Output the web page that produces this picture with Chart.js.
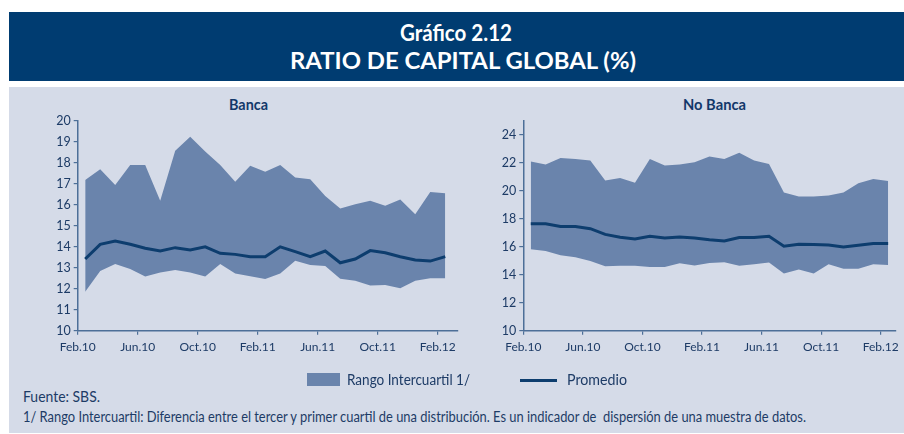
<!DOCTYPE html>
<html>
<head>
<meta charset="utf-8">
<script src="https://cdn.jsdelivr.net/npm/chart.js@4.4.1/dist/chart.umd.min.js"></script>
<style>
  html,body{margin:0;padding:0;background:#fff;}
  body{width:904px;height:434px;position:relative;overflow:hidden;font-family:Lato,'Open Sans',sans-serif;}
  #band{position:absolute;left:9px;top:12px;width:895px;height:69px;background:#003c71;}
  #panel{position:absolute;left:9px;top:87px;width:895px;height:346px;background:#d5dbe8;}
  canvas{position:absolute;}
  .t{position:absolute;white-space:nowrap;transform-origin:0 50%;}
  .title{color:#fff;font-weight:bold;font-size:22px;line-height:26px;}
  .ctitle{font-weight:bold;font-size:14.5px;color:#12386a;line-height:18px;}
  .txt{color:#1d3b66;font-size:14.5px;line-height:18px;}
  .box{position:absolute;left:307px;top:373px;width:33px;height:13px;background:#6a84ac;}
  .ln{position:absolute;left:520px;top:379px;width:37px;height:3px;background:#0d3d6e;}
</style>
</head>
<body>
<div id="band"></div>
<div id="panel"></div>
<div class="t title" data-x="400" data-w="112" style="top:20px;">Gráfico 2.12</div>
<div class="t title" data-x="290" data-w="346" style="top:48px;">RATIO DE CAPITAL GLOBAL (%)</div>
<div class="t ctitle" data-x="229" data-w="39" style="top:96px;">Banca</div>
<div class="t ctitle" data-x="683" data-w="63" style="top:96px;">No Banca</div>
<canvas id="c1" width="470" height="290" style="left:0;top:87px;width:470px;height:290px;"></canvas>
<canvas id="c2" width="434" height="290" style="left:470px;top:87px;width:434px;height:290px;"></canvas>
<div class="box"></div>
<div class="t txt" data-x="347" data-w="123" style="top:371px;">Rango Intercuartil 1/</div>
<div class="ln"></div>
<div class="t txt" data-x="567" data-w="60" style="top:371px;">Promedio</div>
<div class="t txt" data-x="23" data-w="77" style="top:388px;">Fuente: SBS.</div>
<div class="t txt" data-x="23" data-w="783" style="top:408px;">1/ Rango Intercuartil: Diferencia entre el tercer y primer cuartil de una distribución. Es un indicador de&nbsp; dispersión de una muestra de datos.</div>
<script>
// Months Feb.10 .. Feb.12 (25 monthly observations)
const xTickLabels = ['Feb.10','Jun.10','Oct.10','Feb.11','Jun.11','Oct.11','Feb.12'];

const bancaQ3 = [17.19,17.7,16.95,17.9,17.9,16.2,18.58,19.25,18.55,17.9,17.1,17.87,17.58,17.9,17.3,17.22,16.42,15.83,16.03,16.2,15.96,16.26,15.55,16.61,16.55];
const bancaQ1 = [11.86,12.85,13.18,12.94,12.58,12.78,12.89,12.77,12.58,13.18,12.73,12.6,12.46,12.73,13.34,13.13,13.08,12.48,12.38,12.15,12.18,12.02,12.38,12.5,12.5];
const bancaProm = [13.42,14.12,14.28,14.12,13.93,13.8,13.96,13.85,14.0,13.69,13.64,13.53,13.53,14.0,13.77,13.53,13.8,13.24,13.42,13.82,13.72,13.53,13.37,13.32,13.53];

const noBancaQ3 = [22.1,21.88,22.36,22.29,22.17,20.74,20.93,20.58,22.29,21.81,21.88,22.05,22.46,22.29,22.72,22.17,21.93,19.89,19.6,19.6,19.67,19.89,20.55,20.86,20.7];
const noBancaQ1 = [15.82,15.7,15.4,15.25,14.99,14.61,14.64,14.64,14.56,14.56,14.83,14.66,14.85,14.9,14.64,14.75,14.87,14.09,14.37,14.09,14.75,14.44,14.44,14.75,14.7];
const noBancaProm = [17.65,17.65,17.46,17.46,17.3,16.89,16.68,16.56,16.75,16.63,16.7,16.63,16.51,16.42,16.66,16.66,16.75,16.04,16.18,16.16,16.13,15.99,16.11,16.23,16.23];

// fit text boxes horizontally (condensed look of the original typeface)
document.querySelectorAll('.t').forEach(el=>{
  const w = el.getBoundingClientRect().width;
  const target = parseFloat(el.dataset.w);
  el.style.left = el.dataset.x + 'px';
  el.style.transform = 'scaleX(' + (target / w) + ')';
});

const AREA = '#6a84ac', LINE = '#0d3d6e', AXIS = '#4d6f98', TXT = '#1d3b66';
const FONT = "Lato,'Open Sans',sans-serif";

function pts(arr){ return arr.map((v,i)=>({x:i+0.5,y:v})); }

function makeChart(id, q3, q1, prom, cfg){
  return new Chart(document.getElementById(id), {
    type:'line',
    data:{datasets:[
      {data:pts(prom), fill:false, borderColor:LINE, borderWidth:3, pointRadius:0, tension:0},
      {data:pts(q3), fill:'+1', backgroundColor:AREA, borderColor:AREA, borderWidth:0, pointRadius:0, tension:0},
      {data:pts(q1), fill:false, borderColor:AREA, borderWidth:0, pointRadius:0, tension:0}
    ]},
    options:{
      responsive:false, animation:false, devicePixelRatio:1,
      layout:{padding:{top:34,right:cfg.padRight,left:0,bottom:0}},
      plugins:{legend:{display:false},tooltip:{enabled:false}},
      scales:{
        x:{type:'linear',min:0,max:cfg.xMax,
          afterBuildTicks:s=>{s.ticks=[0,4,8,12,16,20,24].map(v=>({value:v}));},
          afterFit:s=>{s.height=290-243.7;},
          grid:{drawOnChartArea:false,drawTicks:true,tickLength:4,color:AXIS,lineWidth:1.2},
          border:{color:AXIS,width:1.5},
          ticks:{color:TXT,font:{family:FONT,size:12},padding:5,maxRotation:0,autoSkip:false,
            callback:v=>xTickLabels[v/4]}
        },
        y:{min:cfg.yMin,max:cfg.yMax,
          afterBuildTicks:s=>{const t=[];for(let v=cfg.yMin;v<=cfg.yMax;v+=cfg.step)t.push({value:v});s.ticks=t;},
          afterFit:s=>{s.width=cfg.axisLeft;},
          grid:{drawOnChartArea:false,drawTicks:true,tickLength:4,color:AXIS,lineWidth:1.2},
          border:{color:AXIS,width:1.5},
          ticks:{color:TXT,font:{family:FONT,size:12.5},padding:3}
        }
      }
    }
  });
}

makeChart('c1', bancaQ3, bancaQ1, bancaProm, {xMax:25.35, padRight:12, yMin:10, yMax:20, step:1, axisLeft:77.7});
makeChart('c2', noBancaQ3, noBancaQ1, noBancaProm, {xMax:25, padRight:6.7, yMin:10, yMax:25, step:2, axisLeft:53.3});
</script>
</body>
</html>
